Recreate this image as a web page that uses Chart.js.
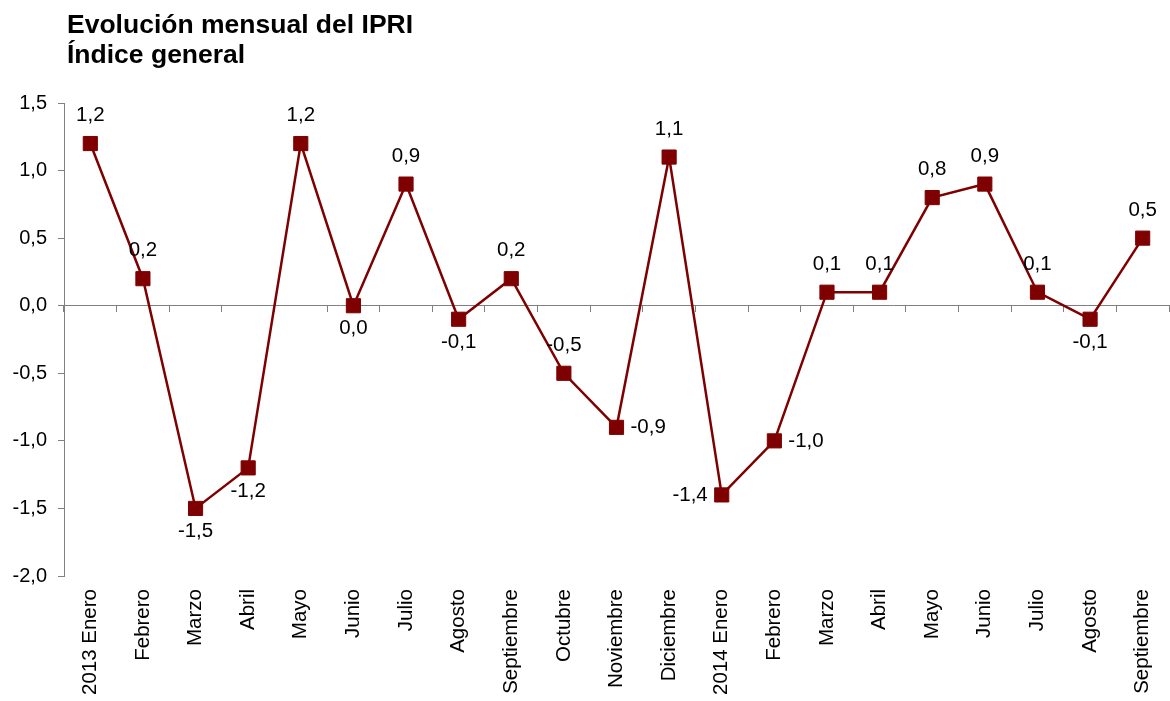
<!DOCTYPE html>
<html>
<head>
<meta charset="utf-8">
<script src="https://cdn.jsdelivr.net/npm/chart.js@4"></script>
<style>
  html, body { margin: 0; padding: 0; background: #fff; overflow: hidden; }
  #wrap { position: relative; width: 1170px; height: 701px; overflow: hidden; }
  #ipri { position: absolute; left: 0; top: 0; }
  #title { position: absolute; left: 67px; top: 9px; font: bold 26.5px "Liberation Sans", Arial, sans-serif; line-height: 30px; color: #000; }
</style>
</head>
<body>
<div id="wrap">
  <canvas id="ipri" width="1180" height="701"></canvas>
  <div id="title">Evolución mensual del IPRI<br>Índice general</div>
</div>
<script>
/* categorias y valores */
const labelarray = ['2013 Enero', 'Febrero', 'Marzo', 'Abril', 'Mayo', 'Junio', 'Julio', 'Agosto', 'Septiembre', 'Octubre', 'Noviembre', 'Diciembre',
    '2014 Enero', 'Febrero', 'Marzo', 'Abril', 'Mayo', 'Junio', 'Julio', 'Agosto', 'Septiembre'];
const datapointarray_ipri = [1.2, 0.2, -1.5, -1.2, 1.2, 0.0, 0.9, -0.1, 0.2, -0.5, -0.9, 1.1,
    -1.4, -1.0, 0.1, 0.1, 0.8, 0.9, 0.1, -0.1, 0.5];
const yticks = [-2.0, -1.5, -1.0, -0.5, 0.0, 0.5, 1.0, 1.5];

// donde va cada etiqueta respecto al punto
const labelpos = ['up', 'up', 'down', 'down', 'up', 'down', 'up', 'down', 'up', 'up', 'right', 'up',
    'left', 'right', 'up', 'up', 'up', 'up', 'up', 'down', 'up'];

const fmt = v => v.toFixed(1).replace('.', ',');
const FONT = '"Liberation Sans", Arial, sans-serif';

const pointLabels = {
    id: 'pointLabels',
    afterDatasetsDraw(chart) {
        const ctx = chart.ctx;
        const meta = chart.getDatasetMeta(0);
        ctx.save();
        ctx.font = '20.5px ' + FONT;
        ctx.fillStyle = '#000';
        ctx.textBaseline = 'middle';
        meta.data.forEach((pt, i) => {
            const txt = fmt(datapointarray_ipri[i]);
            const pos = labelpos[i];
            let x = pt.x, y = pt.y;
            ctx.textAlign = 'center';
            if (pos === 'up') y -= 28;
            else if (pos === 'down') y += 23;
            else if (pos === 'right') { ctx.textAlign = 'left'; x += 14; }
            else if (pos === 'left') { ctx.textAlign = 'right'; x -= 14; }
            ctx.fillText(txt, x, y);
        });
        ctx.restore();
    }
};

const ctx_ipri = document.getElementById('ipri').getContext('2d');
const ipriChart = new Chart(ctx_ipri, {
    type: 'line',
    data: {
        labels: labelarray,
        datasets: [{
            label: 'IPRI',
            data: datapointarray_ipri,
            borderColor: '#7f0000',
            backgroundColor: '#7f0000',
            borderWidth: 2.5,
            pointStyle: 'rect',
            pointRadius: 10,
            pointHoverRadius: 10,
            pointBorderWidth: 1,
            tension: 0
        }]
    },
    options: {
        responsive: false,
        animation: false,
        layout: { padding: { top: 103, right: 0, left: 0, bottom: 0 } },
        plugins: { legend: { display: false }, tooltip: { enabled: false } },
        scales: {
            x: {
                type: 'category',
                position: 'bottom',
                offset: true,
                grid: { display: false },
                border: { display: false },
                ticks: {
                    autoSkip: false,
                    minRotation: 90,
                    maxRotation: 90,
                    padding: 5,
                    color: '#000',
                    font: { family: FONT, size: 20.5 }
                },
                afterFit(scale) { scale.height = 125; }
            },
            x0: {
                type: 'category',
                position: { y: 0 },
                offset: true,
                grid: { offset: true, drawOnChartArea: false, drawTicks: true, tickLength: 6, color: '#808080' },
                border: { display: true, color: '#808080', width: 1 },
                ticks: { display: false }
            },
            y: {
                min: -2,
                max: 1.5,
                afterBuildTicks(scale) { scale.ticks = yticks.map(v => ({ value: v })); },
                grid: { drawOnChartArea: false, drawTicks: true, tickLength: 6, color: '#808080' },
                border: { display: true, color: '#808080', width: 1 },
                ticks: {
                    padding: 11,
                    color: '#000',
                    font: { family: FONT, size: 20 },
                    callback: v => fmt(v)
                },
                afterFit(scale) { scale.width = 64; }
            }
        }
    },
    plugins: [pointLabels]
});
</script>
</body>
</html>
